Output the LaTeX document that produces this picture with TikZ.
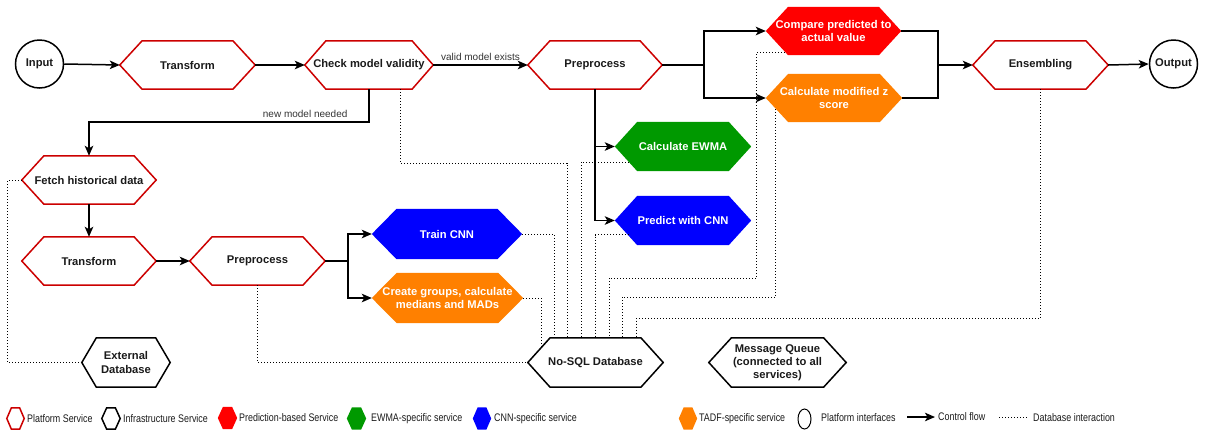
\documentclass[tikz,border=0pt]{standalone}
\usepackage{fontspec}
\setmainfont{Liberation Sans}
\usetikzlibrary{arrows.meta,calc,backgrounds,shapes.geometric}
\definecolor{pred}{HTML}{FF0000}
\definecolor{redline}{HTML}{CC0000}
\definecolor{ewmag}{HTML}{009900}
\definecolor{cnnb}{HTML}{0000FF}
\definecolor{tadf}{HTML}{FF8000}
\definecolor{txt}{HTML}{1A1A1A}
\tikzset{
 hexbox/.style={rectangle, inner sep=0pt, align=center, font=\fontsize{11.2}{13.2}\selectfont\bfseries},
 platT/.style={text=txt}, platS/.style={draw=redline, fill=white, line width=1.5pt, line join=miter},
 infraT/.style={text=txt}, infraS/.style={draw=black, fill=white, line width=1.5pt, line join=miter},
 predT/.style={text=white}, predS/.style={fill=pred},
 ewmaT/.style={text=white}, ewmaS/.style={fill=ewmag},
 cnnT/.style={text=white}, cnnS/.style={fill=cnnb},
 tadfT/.style={text=white}, tadfS/.style={fill=tadf},
 iface/.style={circle, draw=black, line width=1.5pt, minimum size=48pt, inner sep=0pt, text=txt, font=\fontsize{11.2}{13.2}\selectfont\bfseries},
 flow/.style={draw=black, line width=1.5pt, -{Stealth[length=10pt, width=8.5pt, inset=2.5pt]}},
 flowline/.style={draw=black, line width=1.5pt},
 dbline/.style={draw=black, line width=0.9pt, dash pattern=on 1pt off 2pt},
 elabel/.style={font=\fontsize{10}{12}\selectfont, text=black!80, inner sep=1pt},
 legtext/.style={anchor=west, font=\fontsize{11}{13}\selectfont, text=txt, inner sep=0pt},
}
\def\hexfactor{0.165}
\newcommand\hexa[6]{%
  \node[hexbox,#1T,minimum width=#4pt,minimum height=#5pt] (#2) at #3 {#6};
  \pgfmathsetmacro\hexsl{\hexfactor*#4}%
  \begin{pgfonlayer}{background}
  \path[#1S] (#2.west) -- ([xshift=\hexsl pt]#2.north west) -- ([xshift=-\hexsl pt]#2.north east) -- (#2.east) -- ([xshift=-\hexsl pt]#2.south east) -- ([xshift=\hexsl pt]#2.south west) -- cycle;
  \end{pgfonlayer}}
\begin{document}
\begin{tikzpicture}[x=1pt,y=-1pt]
\useasboundingbox (0,0) rectangle (1211,432);
% main row
\node[iface] (in) at (39.5,64) {Input};
\hexa{plat}{t1}{(187.5,65)}{135}{48}{Transform}
\hexa{plat}{chk}{(369,65)}{128}{48}{Check model validity}
\hexa{plat}{pre1}{(595,65)}{134}{48}{Preprocess}
\hexa{pred}{cmp}{(833.5,31)}{135}{48}{Compare predicted to\\actual value}
\hexa{tadf}{zsc}{(834,98)}{136}{48}{Calculate modified z\\score}
\hexa{plat}{ens}{(1040.5,65)}{135}{48}{Ensembling}
\node[iface] (out) at (1173.5,64) {Output};
% training branch
\hexa{plat}{fetch}{(89,180)}{134}{48}{Fetch historical data}
\hexa{plat}{t2}{(89,261)}{134}{48}{Transform}
\hexa{plat}{pre2}{(257.5,261)}{135}{48}{Preprocess}
\hexa{cnn}{train}{(447,234)}{150}{50}{Train CNN}
\hexa{tadf}{grp}{(447.5,298)}{151}{50}{Create groups, calculate\\medians and MADs}
\hexa{ewma}{ewma}{(683,146.5)}{136}{49}{Calculate EWMA}
\hexa{cnn}{pcnn}{(683,220.5)}{136}{49}{Predict with CNN}
% infrastructure
\hexa{infra}{db}{(595.5,362.5)}{135}{49}{No-SQL Database}
\hexa{infra}{mq}{(777.5,362.5)}{137}{49}{Message Queue\\(connected to all\\services)}
\hexa{infra}{ext}{(126,362.5)}{88}{49}{External\\Database}
% control flow
\draw[flow] (in.east) -- (t1.west);
\draw[flow] (t1.east) -- (chk.west);
\draw[flow] (chk.east) -- node[elabel, above=3pt] (lblv) {valid model exists} (pre1.west);
\coordinate (j1) at ($(pre1.east)+(42,0)$);
\draw[flowline] (pre1.east) -- (j1);
\draw[flow] (j1) |- (cmp.west);
\draw[flow] (j1) |- (zsc.west);
\coordinate (j2) at ($(ens.west)+(-35,0)$);
\draw[flowline] (cmp.east) -| (j2);
\draw[flowline] (zsc.east) -| (j2);
\draw[flow] (j2) -- (ens.west);
\draw[flow] (ens.east) -- (out.west);
\draw[flow] (chk.south) -- ++(0,33) -| node[elabel, pos=0.114, above=3pt] (lbln) {new model needed} (fetch.north);
\draw[flow] (fetch.south) -- (t2.north);
\draw[flow] (t2.east) -- (pre2.west);
\coordinate (j3) at ($(pre2.east)+(23,0)$);
\draw[flowline] (pre2.east) -- (j3);
\draw[flow] (j3) |- (train.west);
\draw[flow] (j3) |- (grp.west);
\draw[flow] (pre1.south) |- (ewma.west);
\draw[flow] (pre1.south) |- (pcnn.west);
% database interaction
\coordinate (d1) at ($(db.north)+(-54.5,9)$);
\coordinate (d2) at ($(db.north)+(-41.5,0)$);
\coordinate (d3) at ($(db.north)+(-28.5,0)$);
\coordinate (d4) at ($(db.north)+(-14.5,0)$);
\coordinate (d5) at ($(db.north)+(-0.5,0)$);
\coordinate (d6) at ($(db.north)+(13.5,0)$);
\coordinate (d7) at ($(db.north)+(26.5,0)$);
\coordinate (d8) at ($(db.north)+(40.5,0)$);
\draw[dbline] (fetch.west) -- ++(-14,0) |- (ext.west);
\draw[dbline] (pre2.south) |- (db.west);
\draw[dbline] (grp.east) -| (d1);
\draw[dbline] (train.east) -| (d2);
\draw[dbline] ($(chk.south east)+(-33,0)$) -- ++(0,74) -| (d3);
\draw[dbline] ($(ewma.west)+(14,15.5)$) -| (d4);
\draw[dbline] ($(pcnn.west)+(14,14)$) -| (d5);
\draw[dbline] ($(cmp.west)+(19,21)$) -- ++(-28,0) -- ++(0,226) -| (d6);
\draw[dbline] ($(zsc.west)+(10,11)$) -- ++(0,188) -| (d7);
\draw[dbline] (ens.south) -- ++(0,229) -| (d8);
% legend
\def\hexfactor{0.27}
\hexa{plat}{lg1}{(15.5,418.5)}{17}{21}{}
\node[legtext] (lt1) at (27,418.5) {\scalebox{0.81}[1]{Platform Service}};
\hexa{infra}{lg2}{(111,418.5)}{18}{21}{}
\node[legtext] (lt2) at (123,418.5) {\scalebox{0.81}[1]{Infrastructure Service}};
\hexa{pred}{lg3}{(227.5,418)}{19}{22}{}
\node[legtext] (lt3) at (239,417.5) {\scalebox{0.81}[1]{Prediction-based Service}};
\hexa{ewma}{lg4}{(356.5,418.5)}{19}{22}{}
\node[legtext] (lt4) at (371,418.5) {\scalebox{0.81}[1]{EWMA-specific service}};
\hexa{cnn}{lg5}{(482,418.5)}{18}{22}{}
\node[legtext] (lt5) at (494,418.5) {\scalebox{0.81}[1]{CNN-specific service}};
\hexa{tadf}{lg6}{(688,418.5)}{18}{22}{}
\node[legtext] (lt6) at (699,418.5) {\scalebox{0.81}[1]{TADF-specific service}};
\node[ellipse, draw=black, line width=1pt, minimum width=13pt, minimum height=20pt, inner sep=0pt] (lg7) at (804.5,419) {};
\node[legtext] (lt7) at (821,418) {\scalebox{0.81}[1]{Platform interfaces}};
\coordinate (la1) at (907,417);
\coordinate (la2) at (935,417);
\draw[flow] (la1) -- (la2);
\node[legtext] (lt8) at (938,417) {\scalebox{0.81}[1]{Control flow}};
\coordinate (lb1) at (999,417);
\coordinate (lb2) at (1028,417);
\draw[dbline] (lb1) -- (lb2);
\node[legtext] (lt9) at (1033,418) {\scalebox{0.81}[1]{Database interaction}};
\end{tikzpicture}
\end{document}
